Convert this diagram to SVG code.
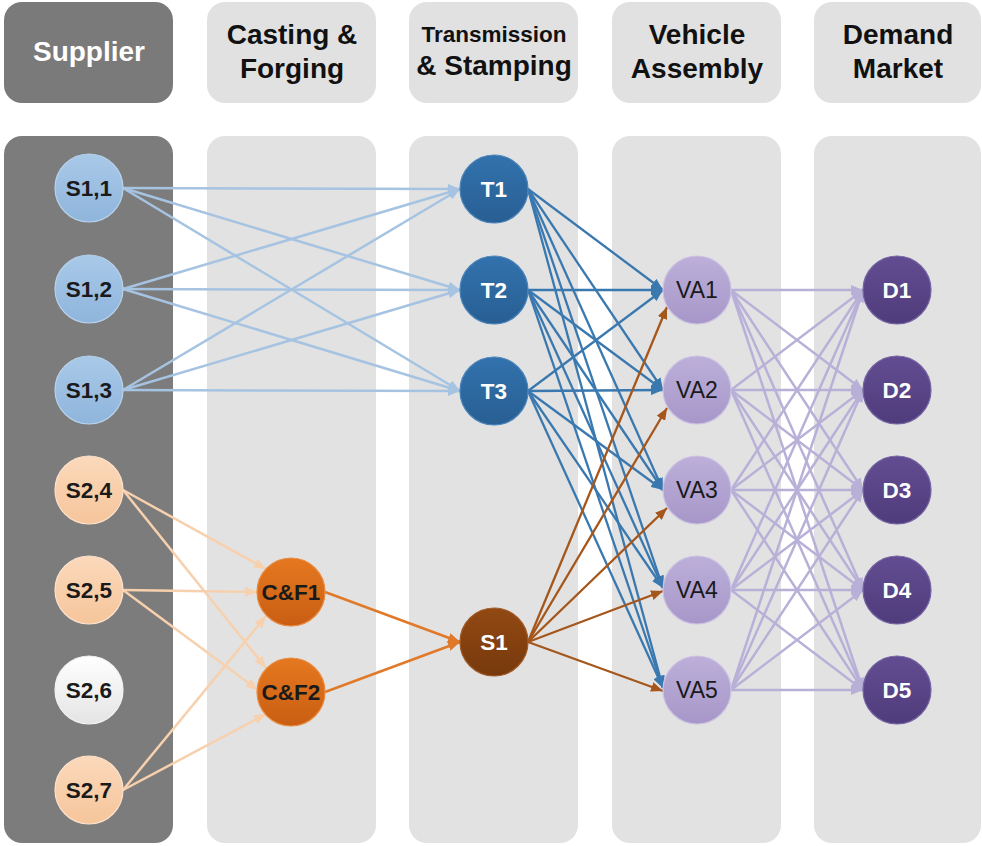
<svg xmlns="http://www.w3.org/2000/svg" width="982" height="846" viewBox="0 0 982 846">
  <defs>
    <style>
      .hdr-dark { fill: #7a7a7a; }
      .hdr-light { fill: #e1e1e1; }
      .lane-dark { fill: #7c7c7c; }
      .lane-light { fill: #e2e2e2; }
      .htxt { font-family: "Liberation Sans", Arial, sans-serif; font-weight: bold; font-size: 28px; text-anchor: middle; fill: #111; }
      .htxt-w { fill: #ffffff; }
      .ntxt { font-family: "Liberation Sans", Arial, sans-serif; font-weight: bold; font-size: 22.5px; text-anchor: middle; fill: #1a1a1a; }
      .ntxt-w { fill: #ffffff; }
      .ntxt-n { font-weight: normal; font-size: 23px; }
      .node { stroke-width: 1.2; }
      .c-lb { stroke: #a6c4e2; stroke-width: 2.5; fill: none; marker-end: url(#ah-lb); }
      .c-pe { stroke: #f7d0ae; stroke-width: 2.5; fill: none; marker-end: url(#ah-pe); }
      .c-or { stroke: #e07a2a; stroke-width: 2.5; fill: none; marker-end: url(#ah-or); }
      .c-br { stroke: #a5561b; stroke-width: 2.3; fill: none; marker-end: url(#ah-br); }
      .c-bl { stroke: #3a78b0; stroke-width: 2.3; fill: none; marker-end: url(#ah-bl); }
      .c-lv { stroke: #b9b0d8; stroke-width: 2.5; fill: none; marker-end: url(#ah-lv); }
    </style>

    <marker id="ah-lb" viewBox="0 0 12 10" refX="12" refY="5" markerWidth="12" markerHeight="10" markerUnits="userSpaceOnUse" orient="auto"><path d="M0,0 L12,5 L0,10 z" fill="#a6c4e2"/></marker>
    <marker id="ah-pe" viewBox="0 0 12 10" refX="12" refY="5" markerWidth="12" markerHeight="10" markerUnits="userSpaceOnUse" orient="auto"><path d="M0,0 L12,5 L0,10 z" fill="#f7d0ae"/></marker>
    <marker id="ah-or" viewBox="0 0 12 10" refX="12" refY="5" markerWidth="12" markerHeight="10" markerUnits="userSpaceOnUse" orient="auto"><path d="M0,0 L12,5 L0,10 z" fill="#e07a2a"/></marker>
    <marker id="ah-br" viewBox="0 0 12 10" refX="12" refY="5" markerWidth="12" markerHeight="10" markerUnits="userSpaceOnUse" orient="auto"><path d="M0,0 L12,5 L0,10 z" fill="#a5561b"/></marker>
    <marker id="ah-bl" viewBox="0 0 12 10" refX="12" refY="5" markerWidth="12" markerHeight="10" markerUnits="userSpaceOnUse" orient="auto"><path d="M0,0 L12,5 L0,10 z" fill="#3a78b0"/></marker>
    <marker id="ah-lv" viewBox="0 0 12 10" refX="12" refY="5" markerWidth="12" markerHeight="10" markerUnits="userSpaceOnUse" orient="auto"><path d="M0,0 L12,5 L0,10 z" fill="#b9b0d8"/></marker>

    <linearGradient id="g-s1" x1="0" y1="0" x2="0" y2="1"><stop offset="0" stop-color="#a9c9e8"/><stop offset="1" stop-color="#8fb5dc"/></linearGradient>
    <linearGradient id="g-s2" x1="0" y1="0" x2="0" y2="1"><stop offset="0" stop-color="#fbd9bb"/><stop offset="1" stop-color="#f6c59b"/></linearGradient>
    <linearGradient id="g-wh" x1="0" y1="0" x2="0" y2="1"><stop offset="0" stop-color="#ffffff"/><stop offset="1" stop-color="#e4e4e4"/></linearGradient>
    <linearGradient id="g-cf" x1="0" y1="0" x2="0" y2="1"><stop offset="0" stop-color="#e5781f"/><stop offset="1" stop-color="#c95e13"/></linearGradient>
    <linearGradient id="g-st" x1="0" y1="0" x2="0" y2="1"><stop offset="0" stop-color="#924913"/><stop offset="1" stop-color="#77390c"/></linearGradient>
    <linearGradient id="g-t" x1="0" y1="0" x2="0" y2="1"><stop offset="0" stop-color="#3272ad"/><stop offset="1" stop-color="#285f93"/></linearGradient>
    <linearGradient id="g-va" x1="0" y1="0" x2="0" y2="1"><stop offset="0" stop-color="#bcafd9"/><stop offset="1" stop-color="#a797c9"/></linearGradient>
    <linearGradient id="g-d" x1="0" y1="0" x2="0" y2="1"><stop offset="0" stop-color="#634d92"/><stop offset="1" stop-color="#4f3c7b"/></linearGradient>
  </defs>

  <rect width="982" height="846" fill="#ffffff"/>

  <!-- stage headers -->
  <g id="headers">
    <rect class="hdr-dark" x="4" y="2" width="169" height="101" rx="18"/>
    <text class="htxt htxt-w" x="89" y="61">Supplier</text>

    <rect class="hdr-light" x="207" y="2" width="169" height="101" rx="18"/>
    <text class="htxt" x="292" y="44">Casting &amp;</text>
    <text class="htxt" x="292" y="78">Forging</text>

    <rect class="hdr-light" x="409" y="2" width="169" height="101" rx="18"/>
    <text class="htxt" x="494" y="42" style="font-size:22.5px">Transmission</text>
    <text class="htxt" x="494" y="75">&amp; Stamping</text>

    <rect class="hdr-light" x="612" y="2" width="169" height="101" rx="18"/>
    <text class="htxt" x="697" y="44">Vehicle</text>
    <text class="htxt" x="697" y="78">Assembly</text>

    <rect class="hdr-light" x="814" y="2" width="167" height="101" rx="18"/>
    <text class="htxt" x="898" y="44">Demand</text>
    <text class="htxt" x="898" y="78">Market</text>
  </g>

  <!-- stage lanes -->
  <g id="lanes">
    <rect class="lane-dark" x="4" y="136" width="169" height="707" rx="18"/>
    <rect class="lane-light" x="207" y="136" width="169" height="707" rx="18"/>
    <rect class="lane-light" x="409" y="136" width="169" height="707" rx="18"/>
    <rect class="lane-light" x="612" y="136" width="169" height="707" rx="18"/>
    <rect class="lane-light" x="814" y="136" width="167" height="707" rx="18"/>
  </g>

  <!-- flows between stages -->
  <g id="connectors">
    <!-- tier-1 suppliers to transmission & stamping -->
    <line class="c-lb" x1="123" y1="188" x2="460" y2="189"/>
    <line class="c-lb" x1="123" y1="188" x2="460" y2="290"/>
    <line class="c-lb" x1="123" y1="188" x2="460" y2="391"/>
    <line class="c-lb" x1="123" y1="289" x2="460" y2="189"/>
    <line class="c-lb" x1="123" y1="289" x2="460" y2="290"/>
    <line class="c-lb" x1="123" y1="289" x2="460" y2="391"/>
    <line class="c-lb" x1="123" y1="390" x2="460" y2="189"/>
    <line class="c-lb" x1="123" y1="390" x2="460" y2="290"/>
    <line class="c-lb" x1="123" y1="390" x2="460" y2="391"/>

    <!-- tier-2 suppliers to casting & forging -->
    <line class="c-pe" x1="123" y1="490" x2="266" y2="569"/>
    <line class="c-pe" x1="123" y1="490" x2="266" y2="668"/>
    <line class="c-pe" x1="123" y1="590" x2="257" y2="592"/>
    <line class="c-pe" x1="123" y1="590" x2="258" y2="690"/>
    <line class="c-pe" x1="123" y1="790" x2="266" y2="616"/>
    <line class="c-pe" x1="123" y1="790" x2="266" y2="714"/>

    <!-- casting & forging to stamping -->
    <line class="c-or" x1="325" y1="592" x2="460" y2="642"/>
    <line class="c-or" x1="325" y1="692" x2="460" y2="642"/>

    <!-- transmission plants to vehicle assembly -->
    <line class="c-bl" x1="528" y1="189" x2="663" y2="290"/>
    <line class="c-bl" x1="528" y1="189" x2="663" y2="390"/>
    <line class="c-bl" x1="528" y1="189" x2="663" y2="490"/>
    <line class="c-bl" x1="528" y1="189" x2="663" y2="588"/>
    <line class="c-bl" x1="528" y1="189" x2="663" y2="688"/>
    <line class="c-bl" x1="528" y1="290" x2="663" y2="290"/>
    <line class="c-bl" x1="528" y1="290" x2="663" y2="390"/>
    <line class="c-bl" x1="528" y1="290" x2="663" y2="490"/>
    <line class="c-bl" x1="528" y1="290" x2="663" y2="588"/>
    <line class="c-bl" x1="528" y1="290" x2="663" y2="688"/>
    <line class="c-bl" x1="528" y1="391" x2="663" y2="290"/>
    <line class="c-bl" x1="528" y1="391" x2="663" y2="390"/>
    <line class="c-bl" x1="528" y1="391" x2="663" y2="490"/>
    <line class="c-bl" x1="528" y1="391" x2="663" y2="588"/>
    <line class="c-bl" x1="528" y1="391" x2="663" y2="688"/>

    <!-- stamping to vehicle assembly -->
    <line class="c-br" x1="528" y1="642" x2="667" y2="307"/>
    <line class="c-br" x1="528" y1="642" x2="667" y2="408"/>
    <line class="c-br" x1="528" y1="642" x2="667" y2="508"/>
    <line class="c-br" x1="528" y1="642" x2="663" y2="591"/>
    <line class="c-br" x1="528" y1="642" x2="663" y2="691"/>

    <!-- vehicle assembly to demand markets -->
    <line class="c-lv" x1="731" y1="290" x2="863" y2="290"/>
    <line class="c-lv" x1="731" y1="290" x2="863" y2="390"/>
    <line class="c-lv" x1="731" y1="290" x2="863" y2="490"/>
    <line class="c-lv" x1="731" y1="290" x2="863" y2="590"/>
    <line class="c-lv" x1="731" y1="290" x2="863" y2="690"/>
    <line class="c-lv" x1="731" y1="390" x2="863" y2="290"/>
    <line class="c-lv" x1="731" y1="390" x2="863" y2="390"/>
    <line class="c-lv" x1="731" y1="390" x2="863" y2="490"/>
    <line class="c-lv" x1="731" y1="390" x2="863" y2="590"/>
    <line class="c-lv" x1="731" y1="390" x2="863" y2="690"/>
    <line class="c-lv" x1="731" y1="490" x2="863" y2="290"/>
    <line class="c-lv" x1="731" y1="490" x2="863" y2="390"/>
    <line class="c-lv" x1="731" y1="490" x2="863" y2="490"/>
    <line class="c-lv" x1="731" y1="490" x2="863" y2="590"/>
    <line class="c-lv" x1="731" y1="490" x2="863" y2="690"/>
    <line class="c-lv" x1="731" y1="590" x2="863" y2="290"/>
    <line class="c-lv" x1="731" y1="590" x2="863" y2="390"/>
    <line class="c-lv" x1="731" y1="590" x2="863" y2="490"/>
    <line class="c-lv" x1="731" y1="590" x2="863" y2="590"/>
    <line class="c-lv" x1="731" y1="590" x2="863" y2="690"/>
    <line class="c-lv" x1="731" y1="690" x2="863" y2="290"/>
    <line class="c-lv" x1="731" y1="690" x2="863" y2="390"/>
    <line class="c-lv" x1="731" y1="690" x2="863" y2="490"/>
    <line class="c-lv" x1="731" y1="690" x2="863" y2="590"/>
    <line class="c-lv" x1="731" y1="690" x2="863" y2="690"/>
  </g>

  <!-- suppliers -->
  <g id="S1_1"><circle class="node" cx="89" cy="188" r="34" fill="url(#g-s1)" stroke="#b8d2ec"/><text class="ntxt" x="89" y="196">S1,1</text></g>
  <g id="S1_2"><circle class="node" cx="89" cy="289" r="34" fill="url(#g-s1)" stroke="#b8d2ec"/><text class="ntxt" x="89" y="297">S1,2</text></g>
  <g id="S1_3"><circle class="node" cx="89" cy="390" r="34" fill="url(#g-s1)" stroke="#b8d2ec"/><text class="ntxt" x="89" y="398">S1,3</text></g>
  <g id="S2_4"><circle class="node" cx="89" cy="490" r="34" fill="url(#g-s2)" stroke="#fde2cb"/><text class="ntxt" x="89" y="498">S2,4</text></g>
  <g id="S2_5"><circle class="node" cx="89" cy="590" r="34" fill="url(#g-s2)" stroke="#fde2cb"/><text class="ntxt" x="89" y="598">S2,5</text></g>
  <g id="S2_6"><circle class="node" cx="89" cy="690" r="34" fill="url(#g-wh)" stroke="#f2f2f2"/><text class="ntxt" x="89" y="698">S2,6</text></g>
  <g id="S2_7"><circle class="node" cx="89" cy="790" r="34" fill="url(#g-s2)" stroke="#fde2cb"/><text class="ntxt" x="89" y="798">S2,7</text></g>

  <!-- casting & forging -->
  <g id="CF1"><circle class="node" cx="291" cy="592" r="34" fill="url(#g-cf)" stroke="#e98a3e"/><text class="ntxt" x="291" y="600">C&amp;F1</text></g>
  <g id="CF2"><circle class="node" cx="291" cy="692" r="34" fill="url(#g-cf)" stroke="#e98a3e"/><text class="ntxt" x="291" y="700">C&amp;F2</text></g>

  <!-- transmission & stamping -->
  <g id="T1"><circle class="node" cx="494" cy="189" r="34" fill="url(#g-t)" stroke="#4a84bb"/><text class="ntxt ntxt-w" x="494" y="197">T1</text></g>
  <g id="T2"><circle class="node" cx="494" cy="290" r="34" fill="url(#g-t)" stroke="#4a84bb"/><text class="ntxt ntxt-w" x="494" y="298">T2</text></g>
  <g id="T3"><circle class="node" cx="494" cy="391" r="34" fill="url(#g-t)" stroke="#4a84bb"/><text class="ntxt ntxt-w" x="494" y="399">T3</text></g>
  <g id="S1"><circle class="node" cx="494" cy="642" r="34" fill="url(#g-st)" stroke="#a05a26"/><text class="ntxt ntxt-w" x="494" y="650">S1</text></g>

  <!-- vehicle assembly -->
  <g id="VA1"><circle class="node" cx="697" cy="290" r="34" fill="url(#g-va)" stroke="#cbc1e3"/><text class="ntxt ntxt-n" x="697" y="298">VA1</text></g>
  <g id="VA2"><circle class="node" cx="697" cy="390" r="34" fill="url(#g-va)" stroke="#cbc1e3"/><text class="ntxt ntxt-n" x="697" y="398">VA2</text></g>
  <g id="VA3"><circle class="node" cx="697" cy="490" r="34" fill="url(#g-va)" stroke="#cbc1e3"/><text class="ntxt ntxt-n" x="697" y="498">VA3</text></g>
  <g id="VA4"><circle class="node" cx="697" cy="590" r="34" fill="url(#g-va)" stroke="#cbc1e3"/><text class="ntxt ntxt-n" x="697" y="598">VA4</text></g>
  <g id="VA5"><circle class="node" cx="697" cy="690" r="34" fill="url(#g-va)" stroke="#cbc1e3"/><text class="ntxt ntxt-n" x="697" y="698">VA5</text></g>

  <!-- demand markets -->
  <g id="D1"><circle class="node" cx="897" cy="290" r="34" fill="url(#g-d)" stroke="#7563a3"/><text class="ntxt ntxt-w" x="897" y="298">D1</text></g>
  <g id="D2"><circle class="node" cx="897" cy="390" r="34" fill="url(#g-d)" stroke="#7563a3"/><text class="ntxt ntxt-w" x="897" y="398">D2</text></g>
  <g id="D3"><circle class="node" cx="897" cy="490" r="34" fill="url(#g-d)" stroke="#7563a3"/><text class="ntxt ntxt-w" x="897" y="498">D3</text></g>
  <g id="D4"><circle class="node" cx="897" cy="590" r="34" fill="url(#g-d)" stroke="#7563a3"/><text class="ntxt ntxt-w" x="897" y="598">D4</text></g>
  <g id="D5"><circle class="node" cx="897" cy="690" r="34" fill="url(#g-d)" stroke="#7563a3"/><text class="ntxt ntxt-w" x="897" y="698">D5</text></g>
</svg>
